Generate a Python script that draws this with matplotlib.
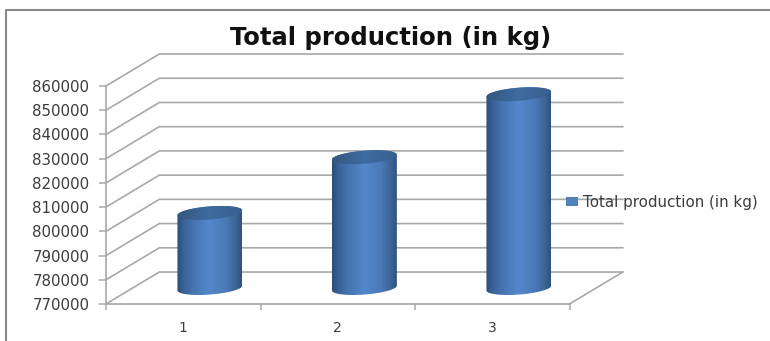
import numpy as np
import matplotlib
matplotlib.use("AGG")
import matplotlib.pyplot as plt
from matplotlib.colors import LinearSegmentedColormap
from matplotlib.lines import Line2D
from matplotlib.patches import Patch, PathPatch, Polygon
from matplotlib.path import Path

categories = ["1", "2", "3"]
production = [801000, 824000, 850000]
y_ticks = [770000, 780000, 790000, 800000, 810000, 820000, 830000, 840000, 850000, 860000]
series_name = "Total production (in kg)"

GRID = "#a8a8a8"
W, H = 770, 341

# depth of the fake 3D box, in data units
depth_x = 0.345
depth_y = 13200
bar_w = 0.42
cap_b = 2700   # half height of the elliptical cap
cap_k = 1000   # tilt of the cap, right side higher

body_cmap = LinearSegmentedColormap.from_list("body", [
    (0.0, "#2b4d78"), (0.1, "#3a6296"), (0.25, "#4574b0"), (0.5, "#5488cb"),
    (0.75, "#4a7ab8"), (0.9, "#3d6698"), (1.0, "#2f5280")])
cap_cmap = LinearSegmentedColormap.from_list("cap", ["#34587f", "#3f6b9f", "#37608f"])

fig = plt.figure(figsize=(W / 100, H / 100), dpi=100)
ax = fig.add_axes([106 / W, (H - 304) / H, (569.5 - 106) / W, (304 - 86) / H])
ax.set_xlim(0.5, 3.5)
ax.set_ylim(y_ticks[0], y_ticks[-1])

# frame around the chart area, only left and top show
fig.add_artist(Line2D([6.5 / W, 6.5 / W, 1], [0, (H - 9.5) / H, (H - 9.5) / H], color="#8a8a8a", lw=1.5))

# side wall and back wall gridlines
for v in y_ticks:
    ax.plot([0.5, 0.5 + depth_x, 3.5 + depth_x], [v, v + depth_y, v + depth_y],
            color=GRID, lw=1.2, clip_on=False, zorder=1, solid_joinstyle="miter")
ax.plot([3.5, 3.5 + depth_x], [y_ticks[0], y_ticks[0] + depth_y], color=GRID, lw=1.2, clip_on=False, zorder=1)


def ellipse(cx, cy, t):
    return cx + bar_w / 2 * np.cos(t), cy + cap_b * np.sin(t) + cap_k * np.cos(t)


for i, val in enumerate(production):
    # cylinders stand mid-way through the depth of the box
    cx = i + 1 + depth_x / 2
    base = y_ticks[0] + depth_y / 2
    top = val + depth_y / 2

    # body: lower arc of the base, then back over the top arc
    t1 = np.linspace(np.pi, 2 * np.pi, 60)
    x1, y1 = ellipse(cx, base, t1)
    t2 = np.linspace(0, np.pi, 60)
    x2, y2 = ellipse(cx, top, t2)
    body = Polygon(np.column_stack([np.r_[x1, x2], np.r_[y1, y2]]), closed=True,
                   facecolor="none", edgecolor="none", zorder=3)
    ax.add_patch(body)
    im = ax.imshow(np.linspace(0, 1, 256).reshape(1, -1), cmap=body_cmap, aspect="auto", zorder=3,
                   extent=[cx - bar_w / 2, cx + bar_w / 2, base - 5000, top + 5000])
    im.set_clip_path(body)

    t = np.linspace(0, 2 * np.pi, 120)
    xc, yc = ellipse(cx, top, t)
    cap = PathPatch(Path(np.column_stack([xc, yc])), facecolor="none", edgecolor="none", zorder=4)
    ax.add_patch(cap)
    im2 = ax.imshow(np.linspace(0, 1, 256).reshape(1, -1), cmap=cap_cmap, aspect="auto", zorder=4,
                    extent=[cx - bar_w / 2, cx + bar_w / 2, top - 5000, top + 5000])
    im2.set_clip_path(cap)

ax.set_xlim(0.5, 3.5)
ax.set_ylim(y_ticks[0], y_ticks[-1])
ax.patch.set_visible(False)

for s in ["top", "right"]:
    ax.spines[s].set_visible(False)
for s in ["left", "bottom"]:
    ax.spines[s].set_color(GRID)
    ax.spines[s].set_linewidth(1.2)

ax.set_yticks(y_ticks)
ax.set_yticklabels([str(v) for v in y_ticks])
ax.tick_params(axis="y", length=5, width=1.1, color=GRID, labelsize=10.8, labelcolor="#3c3c3c", pad=7)

# category labels sit between the ticks
ax.set_xticks([0.5, 1.5, 2.5, 3.5])
ax.set_xticklabels([])
ax.tick_params(axis="x", length=4, width=1.1, color=GRID)
for i, c in enumerate(categories):
    ax.annotate(c, (i + 1, y_ticks[0]), xytext=(0, -24), textcoords="offset pixels",
                ha="center", va="center", fontsize=10, color="#3c3c3c")

fig.text(391 / W, (H - 38) / H, series_name, ha="center", va="center",
         fontsize=17.5, fontweight="bold", family="DejaVu Sans", color="#111111")

handle = Patch(facecolor="#4f81bd", edgecolor="none", label=series_name)
fig.legend(handles=[handle], loc="center left", bbox_to_anchor=(566 / W, (H - 202) / H),
           frameon=False, fontsize=10.9, labelcolor="#3c3c3c", borderpad=0, borderaxespad=0,
           handlelength=0.8, handleheight=0.55, handletextpad=0.35)

fig.savefig("out.png", dpi=100)
